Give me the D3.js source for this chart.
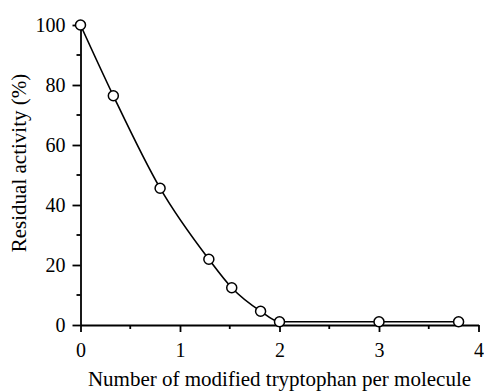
<!DOCTYPE html>
<html>
<head>
<meta charset="utf-8">
<script src="https://cdn.jsdelivr.net/npm/d3@7"></script>
<style>
  html, body { margin: 0; padding: 0; background: #fff; }
  svg text { font-family: "Liberation Serif", "DejaVu Serif", serif; fill: #000; }
</style>
</head>
<body>
<svg id="chart" width="484" height="391"></svg>
<script>
// ---- Data ----
const tryptophan = [0, 0.33, 0.80, 1.29, 1.52, 1.81, 2.0, 3.0, 3.8];
const activity   = [100, 76.4, 45.6, 21.9, 12.4, 4.6, 1.1, 1.1, 1.1];
const xTicks = [0, 1, 2, 3, 4];
const xMinor = [0.5, 1.5, 2.5, 3.5];
const yTicks = [0, 20, 40, 60, 80, 100];
const yMinor = [10, 30, 50, 70, 90];

const svg = d3.select('#chart');
const margin = { left: 80.5, right: 5.5, top: 25, bottom: 66 };
const W = 484, H = 391;
const serif = '"Liberation Serif", "DejaVu Serif", serif';

const x = d3.scaleLinear().domain([0, 4]).range([margin.left, W - margin.right]);
const y = d3.scaleLinear().domain([0, 100]).range([H - margin.bottom, margin.top]);

const g = svg.append('g');

// ---- Axes ----
const xAxis = g.append('g')
  .attr('transform', `translate(0,${y(0)})`)
  .call(d3.axisBottom(x).tickValues(xTicks).tickSize(7).tickPadding(11).tickSizeOuter(0)
    .tickFormat(d3.format('d')));
xAxis.append('g').selectAll('line').data(xMinor).join('line')
  .attr('x1', d => x(d)).attr('x2', d => x(d))
  .attr('y1', 0).attr('y2', 4);

const yAxis = g.append('g')
  .attr('transform', `translate(${x(0)},0)`)
  .call(d3.axisLeft(y).tickValues(yTicks).tickSize(8).tickPadding(7).tickSizeOuter(0));
yAxis.append('g').selectAll('line').data(yMinor).join('line')
  .attr('x1', 0).attr('x2', -4)
  .attr('y1', d => y(d)).attr('y2', d => y(d));

[xAxis, yAxis].forEach(a => {
  a.attr('font-family', serif).attr('font-size', 20);
  a.selectAll('path, line').attr('stroke', '#000').attr('stroke-width', 1.8);
  a.selectAll('text').style('font-family', serif).style('font-size', '20px');
});

// ---- Titles ----
g.append('text')
  .attr('x', x(2)).attr('y', 386)
  .attr('text-anchor', 'middle')
  .style('font-family', serif)
  .style('font-size', '21px')
  .text('Number of modified tryptophan per molecule');

g.append('text')
  .attr('transform', 'translate(26,163) rotate(-90)')
  .attr('text-anchor', 'middle')
  .style('font-family', serif)
  .style('font-size', '21px')
  .text('Residual activity (%)');

// ---- Curve ----
const pts = tryptophan.map((v, i) => [v, activity[i]]);
const line = d3.line()
  .x(d => x(d[0])).y(d => y(d[1]))
  .curve(d3.curveMonotoneX);

g.append('path')
  .datum(pts)
  .attr('d', line)
  .attr('fill', 'none')
  .attr('stroke', '#000')
  .attr('stroke-width', 1.6);

// ---- Markers ----
g.selectAll('.pt').data(pts).join('circle')
  .attr('class', 'pt')
  .attr('cx', d => x(d[0])).attr('cy', d => y(d[1]))
  .attr('r', 5)
  .attr('fill', '#fff')
  .attr('stroke', '#000')
  .attr('stroke-width', 1.5);
</script>
</body>
</html>
